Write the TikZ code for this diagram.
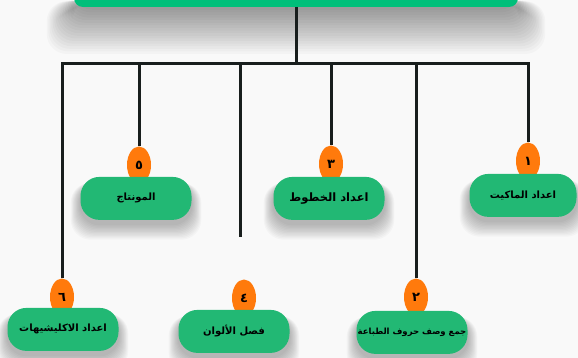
\documentclass[tikz,border=0pt]{standalone}
\usepackage{fontspec}
\newfontfamily\arabicfont[Script=Arabic]{DejaVu Sans}
\TeXXeTstate=1
\usepackage{tikz}
\usetikzlibrary{positioning,shapes.geometric}
\pgfdeclarelayer{back}
\pgfdeclarelayer{bg}
\pgfsetlayers{back,bg,main}
\definecolor{topgreen}{RGB}{0,191,122}
\definecolor{boxgreen}{RGB}{34,184,116}
\definecolor{badgeorange}{RGB}{255,122,12}
\definecolor{linecol}{RGB}{24,30,29}

\begin{document}
\begin{tikzpicture}[x=1pt,y=-1pt,
titlebar/.style={rectangle, rounded corners=9pt, fill=topgreen, minimum width=444pt, minimum height=40pt},
stepbox/.style={rectangle, rounded corners=19pt, fill=boxgreen, minimum width=111pt, minimum height=43pt, inner sep=0pt, font=\arabicfont\bfseries\fontsize{10}{12}\selectfont},
badge/.style={ellipse, fill=badgeorange, minimum width=24pt, minimum height=37pt, inner sep=0pt, font=\arabicfont\bfseries\fontsize{13}{14}\selectfont},
link/.style={draw=linecol, line width=3pt},
softshade/.style={fill=black, opacity=0.024, rounded corners=20pt},
]
\useasboundingbox (0,0) rectangle (578,358);
\begin{pgfonlayer}{back}
\fill[gray!5] (0,0) rectangle (578,358);
\end{pgfonlayer}

\node[titlebar] (title) at (296,-13) {};

%Upper row
\node[badge] (b5) at (139,165) {٥};
\node[badge] (b3) at (331,164) {٣};
\node[badge] (b1) at (528,161) {١};
\node[stepbox] (n5) [below=-7pt of b5, xshift=-3pt] {\beginR المونتاج\endR};
\node[stepbox, font=\arabicfont\bfseries\fontsize{11.5}{12}\selectfont] (n3) [below=-6pt of b3, xshift=-2pt] {\beginR اعداد الخطوط\endR};
\node[stepbox, minimum width=107pt] (n1) [below=-6pt of b1, xshift=-5pt] {\beginR اعداد الماكيت\endR};

%Lower row
\node[badge] (b6) at (62,297) {٦};
\node[badge] (b4) at (244,298) {٤};
\node[badge] (b2) at (416,297) {٢};
\node[stepbox] (n6) [below=-8pt of b6, xshift=1pt] {\beginR اعداد الاكليشيهات\endR};
\node[stepbox] (n4) [below=-7pt of b4, xshift=-10pt] {\beginR فصل الألوان\endR};
\node[stepbox, font=\arabicfont\bfseries\fontsize{8.5}{10}\selectfont] (n2) [below=-5pt of b2, xshift=-4pt] {\beginR جمع وصف حروف الطباعة\endR};

%Shadows
\begin{pgfonlayer}{bg}
\foreach \k in {1,...,18}
  \fill[softshade, opacity=0.022] ([xshift={-\k*1.5pt}, yshift=6pt]title.south west) rectangle ([xshift={\k*1.5pt}, yshift={-\k*2.6pt}]title.south east);
\foreach \n in {n1,n2,n3,n4,n5,n6}
  \foreach \k in {1,...,12}
    \fill[softshade] ([xshift={-\k*0.8pt}, yshift=-6pt]\n.north west) rectangle ([xshift={\k*0.8pt}, yshift={-4pt-\k*1.3pt}]\n.south east);
\end{pgfonlayer}

\coordinate (bus) at (296,64);
\coordinate (end4) at (240,237);

%Trunk and bus
\draw[link] (title.south) -- (bus);
\draw[link] (b6.north) |- (bus) -| (b1.north);

%Drops
\draw[link] (b5.north |- bus) -- (b5.north);
\draw[link] (b3.north |- bus) -- (b3.north);
\draw[link] (b2.north |- bus) -- (b2.north);
\draw[link] (end4 |- bus) -- (end4);
\end{tikzpicture}
\end{document}
